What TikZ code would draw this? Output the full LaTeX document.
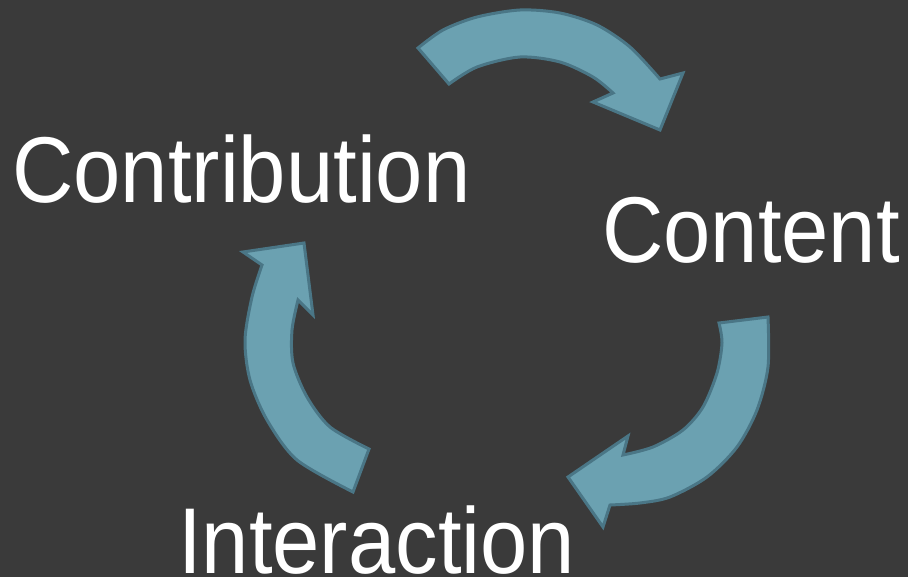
\documentclass[tikz,border=0pt]{standalone}
\usepackage{fontspec}
\setmainfont{Liberation Sans}
\usepackage{graphicx}
\definecolor{slate}{RGB}{58,58,58}
\definecolor{cycleFill}{RGB}{107,161,177}
\definecolor{cycleLine}{RGB}{74,118,134}
\newcommand{\cyclelabel}[1]{\scalebox{1}[1.1]{#1}}

\begin{document}
\begin{tikzpicture}[x = 1pt, y = -1pt]
\tikzstyle{labelStyle} = [anchor = base west, inner sep = 0pt, text = white, font = \fontsize{85}{100}\selectfont]
\tikzstyle{arrowStyle} = [fill = cycleFill, draw = cycleLine, line width = 3pt]
\fill[slate] (0,0) rectangle (908,577);
\useasboundingbox (0,0) rectangle (908,577);
\node[labelStyle] (contribution) at (12,203) {\cyclelabel{Contribution}};
\node[labelStyle] (content) at (602,263) {\cyclelabel{Content}};
\node[labelStyle] (interaction) at (178,573) {\cyclelabel{Interaction}};
% contribution -> content
\draw[arrowStyle] plot[smooth] coordinates {(418,48) (443,30) (477,17) (520,10) (560,13) (597,25) (630,47) (660,79)}
  -- (683,73) -- (660,130) -- (593,102)
  -- plot[smooth] coordinates {(613,93) (593,77) (560,62) (520,57) (477,67) (449,84)} -- cycle;
% content -> interaction
\draw[arrowStyle] plot[smooth] coordinates {(768,317) (768,367) (757,410) (737,447) (707,477) (670,497) (640,503) (610,505)}
  -- (603,527) -- (568,477) -- (628,436)
  -- plot[smooth] coordinates {(623,455) (653,447) (683,430) (703,407) (717,373) (722,343) (719,323)} -- cycle;
% interaction -> contribution
\draw[arrowStyle] plot[smooth] coordinates {(353,492) (297,460) (267,420) (250,380) (245,340) (252,297) (262,265)}
  -- (243,252) -- (304,243) -- (313,315)
  -- plot[smooth] coordinates {(298,300) (292,330) (293,363) (307,397) (330,427) (369,449)} -- cycle;
\end{tikzpicture}
\end{document}
